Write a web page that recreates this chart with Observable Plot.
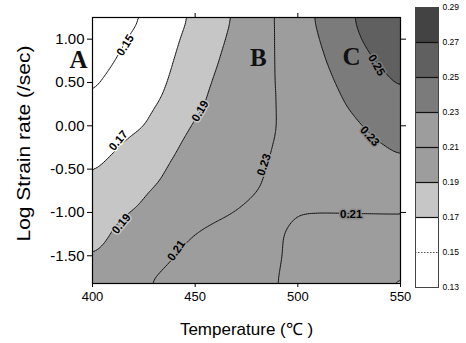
<!DOCTYPE html>
<html><head><meta charset="utf-8">
<script src="https://cdn.jsdelivr.net/npm/d3@7"></script>
<script src="https://cdn.jsdelivr.net/npm/@observablehq/plot@0.6"></script>
<style>
body{margin:0;background:#fff}
#wrap{position:relative;width:466px;height:343px;overflow:hidden;background:#fff}
#cbar{position:absolute;left:405px;top:0}
</style></head><body><div id="wrap"></div>
<script>
// Temperature grid (°C) and log strain-rate grid (/sec)
const temps = [400, 412.5, 425, 437.5, 450, 462.5, 475, 487.5, 500, 512.5, 525, 537.5, 550];
const logRates = [1.25, 1.0, 0.75, 0.5, 0.25, 0.0, -0.25, -0.5, -0.75, -1.0, -1.25, -1.5, -1.82];
// Estimated map values (rows follow logRates, columns follow temps)
const values = [
  [0.130,0.141,0.151,0.162,0.173,0.185,0.197,0.209,0.222,0.235,0.248,0.259,0.266],
  [0.137,0.147,0.156,0.166,0.176,0.188,0.199,0.209,0.220,0.232,0.244,0.257,0.263],
  [0.143,0.151,0.160,0.168,0.180,0.191,0.200,0.209,0.219,0.229,0.239,0.2502,0.258],
  [0.148,0.155,0.163,0.1704,0.183,0.194,0.201,0.209,0.218,0.226,0.235,0.244,0.252],
  [0.151,0.158,0.165,0.174,0.187,0.195,0.202,0.209,0.216,0.224,0.231,0.238,0.246],
  [0.155,0.162,0.169,0.181,0.192,0.198,0.203,0.209,0.215,0.221,0.227,0.233,0.239],
  [0.161,0.1702,0.179,0.188,0.194,0.199,0.205,0.2101,0.215,0.219,0.223,0.228,0.232],
  [0.169,0.177,0.184,0.191,0.196,0.202,0.207,0.211,0.215,0.218,0.221,0.224,0.227],
  [0.173,0.181,0.189,0.194,0.199,0.204,0.208,0.212,0.214,0.216,0.218,0.220,0.222],
  [0.183,0.188,0.193,0.197,0.202,0.207,0.212,0.215,0.212,0.211,0.211,0.211,0.211],
  [0.185,0.192,0.198,0.204,0.2102,0.216,0.221,0.218,0.199,0.199,0.199,0.199,0.199],
  [0.1898,0.196,0.202,0.2085,0.215,0.221,0.225,0.218,0.198,0.199,0.199,0.198,0.197],
  [0.196,0.202,0.209,0.215,0.221,0.225,0.226,0.214,0.196,0.196,0.195,0.1925,0.187]
];
const levels = [0.13, 0.15, 0.17, 0.19, 0.21, 0.23, 0.25, 0.27, 0.29];
const grays = ["#ffffff","#ffffff","#c6c6c6","#9d9d9d","#8a8a8a","#7b7b7b","#606060","#434343"];
const xTicks = [400, 450, 500, 550];
const yTicks = [1.0, 0.5, 0.0, -0.5, -1.0, -1.5];
const rightTicks = [1, 0, -1];
const topTicks = [450, 500];
const contourLabels = [
  {T: 416.0, r: 0.93, text: "0.15", angle: -58, lvl: 0.14},
  {T: 412.6, r: -0.17, text: "0.17", angle: -50, lvl: 0.16},
  {T: 452.4, r: 0.17, text: "0.19", angle: -60, lvl: 0.18},
  {T: 414.0, r: -1.13, text: "0.19", angle: -50, lvl: 0.18},
  {T: 440.8, r: -1.44, text: "0.21", angle: -55, lvl: 0.20},
  {T: 483.5, r: -0.45, text: "0.23", angle: -72, lvl: 0.20},
  {T: 526.0, r: -1.02, text: "0.21", angle: 0, lvl: 0.22},
  {T: 538.3, r: 0.70, text: "0.25", angle: 60, lvl: 0.24},
  {T: 535.0, r: -0.12, text: "0.23", angle: 48, lvl: 0.22}
];
const regionLabels = [
  {T: 393.2, r: 0.76, text: "A"},
  {T: 480.8, r: 0.78, text: "B"},
  {T: 526.2, r: 0.79, text: "C"}
];
const xTitle = "Temperature (℃ )";
const yTitle = "Log Strain rate (/sec)";

// build table
const grid = [];
logRates.forEach((r, i) => temps.forEach((T, j) => grid.push({T, r, v: values[i][j]})));
const bands = levels.slice(0, -1).map((lo, i) => ({lo, hi: levels[i + 1]}));
// threshold boundaries halfway between levels so each band's lower level maps to its gray
const colorScale = {
  type: "threshold",
  domain: levels.slice(1, -1).map((d, i) => (d + levels[i]) / 2 + 0.01),
  range: grays
};

const sans = "'Liberation Sans', Arial, Helvetica, sans-serif";
const fontStyle = `font-family: ${sans}; background: transparent; color: #000;`;
const field = {x: "T", y: "r", interpolate: "barycentric", blur: 3};

const main = Plot.plot({
  width: 466, height: 343,
  marginLeft: 92, marginRight: 66, marginTop: 17, marginBottom: 60,
  style: fontStyle,
  x: {domain: [400, 550], label: null},
  y: {domain: [-1.82, 1.25], label: null},
  color: colorScale,
  marks: [
    Plot.contour(grid, {...field, fill: "v", thresholds: levels, stroke: "none"}),
    Plot.contour(grid, {...field, value: "v", fill: "none", thresholds: levels.slice(1, -1), stroke: "#111", strokeWidth: 1}),
    Plot.text(contourLabels, {x: "T", y: "r", text: "text", rotate: "angle", fill: "#000", stroke: "lvl", strokeWidth: 3, paintOrder: "stroke", fontSize: 11.5, fontWeight: "bold", fontFamily: sans}),
    Plot.text(regionLabels, {x: "T", y: "r", text: "text", fontFamily: "'Liberation Serif', 'Times New Roman', serif", fontWeight: "bold", fontSize: 25, fill: "#111"}),
    Plot.frame({stroke: "#000", strokeWidth: 1.2}),
    Plot.axisY({anchor: "left", ticks: yTicks, tickFormat: d => d.toFixed(2), tickSize: 5, tickPadding: 3, fontSize: 15, fontFamily: sans, label: null}),
    Plot.axisY({anchor: "right", ticks: rightTicks, tickFormat: () => "", tickSize: 5, label: null}),
    Plot.axisX({anchor: "bottom", ticks: xTicks, tickSize: 4, tickPadding: 4, fontSize: 13, fontFamily: sans, label: null}),
    Plot.axisX({anchor: "top", ticks: topTicks, tickFormat: () => "", tickSize: 5, label: null}),
    Plot.text([xTitle], {text: d => d, frameAnchor: "bottom", textAnchor: "middle", dy: 51, fontSize: 17, fontFamily: sans}),
    Plot.text([yTitle], {text: d => d, frameAnchor: "left", textAnchor: "middle", dx: -68, dy: -7, rotate: -90, fontSize: 18, fontFamily: sans})
  ]
});
// stretch the y title along its length as in the scanned original
d3.select(main).selectAll("text").filter(function() { return this.textContent === yTitle; })
  .attr("textLength", 196).attr("lengthAdjust", "spacingAndGlyphs");

const cbar = Plot.plot({
  width: 61, height: 300,
  marginLeft: 10, marginRight: 28, marginTop: 7, marginBottom: 13,
  style: fontStyle,
  x: {domain: [0, 1], axis: null},
  y: {domain: [levels[0], levels[levels.length - 1]], label: null},
  color: colorScale,
  marks: [
    Plot.rect(bands, {x1: 0, x2: 1, y1: "lo", y2: "hi", fill: "lo"}),
    Plot.ruleY(levels.slice(2, -1), {stroke: "#111", strokeWidth: 1.2}),
    Plot.ruleY([levels[1]], {stroke: "#555", strokeDasharray: "1.5,1.5"}),
    Plot.frame({stroke: "#444", strokeWidth: 1}),
    Plot.axisY({anchor: "right", ticks: levels, tickFormat: d => d.toFixed(2), tickSize: 0, tickPadding: 4, fontSize: 8.5, fontFamily: sans, label: null})
  ]
});
cbar.id = "cbar";
const wrap = document.getElementById("wrap");
wrap.appendChild(main);
wrap.appendChild(cbar);
</script></body></html>
